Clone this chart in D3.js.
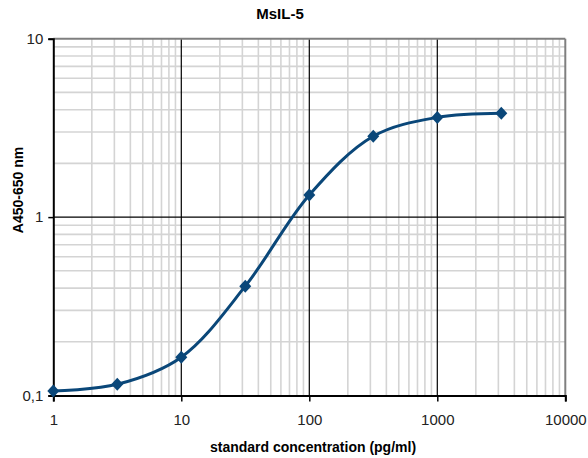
<!DOCTYPE html>
<html>
<head>
<meta charset="utf-8">
<script src="https://cdn.jsdelivr.net/npm/d3@7"></script>
<style>
  body { margin: 0; background: #fff; }
  svg { font-family: "Liberation Sans", Arial, sans-serif; }
</style>
</head>
<body>
<svg width="588" height="458"></svg>
<script>
// standard curve readings
const concentrations = [1, 3.16, 10, 31.6, 100, 316, 1000, 3162];
const absorbance = [0.106, 0.1156, 0.164, 0.41, 1.33, 2.84, 3.62, 3.82];
const xTicks = [1, 10, 100, 1000, 10000];
const yTicks = [0.1, 1, 10];
const yTickLabels = ["0,1", "1", "10"];

const svg = d3.select("svg");
const margin = {top: 38.7, right: 22.7, bottom: 62.5, left: 53.3};
const width = +svg.attr("width") - margin.left - margin.right;
const height = +svg.attr("height") - margin.top - margin.bottom;
const g = svg.append("g").attr("transform", `translate(${margin.left},${margin.top})`);

const x = d3.scaleLog().domain([1, 10000]).range([0, width]);
const y = d3.scaleLog().domain([0.1, 10]).range([height, 0]);

// minor grid values (2..9 of each decade)
const minorX = [], minorY = [];
[1, 10, 100, 1000].forEach(d => { for (let k = 2; k <= 9; k++) minorX.push(d * k); });
[0.1, 1].forEach(d => { for (let k = 2; k <= 9; k++) minorY.push(+(d * k).toFixed(2)); });

g.append("g").selectAll("line").data(minorX).join("line")
    .attr("x1", d => x(d)).attr("x2", d => x(d))
    .attr("y1", 0).attr("y2", height)
    .attr("stroke", "#d4d4d4").attr("stroke-width", 1.6);
g.append("g").selectAll("line").data(minorY).join("line")
    .attr("y1", d => y(d)).attr("y2", d => y(d))
    .attr("x1", 0).attr("x2", width)
    .attr("stroke", "#d4d4d4").attr("stroke-width", 1.6);

// major grid
g.append("g").selectAll("line").data(xTicks.slice(1, -1)).join("line")
    .attr("x1", d => x(d)).attr("x2", d => x(d))
    .attr("y1", 0).attr("y2", height)
    .attr("stroke", "#000").attr("stroke-width", 1.2);
g.append("g").selectAll("line").data(yTicks.slice(1, -1)).join("line")
    .attr("y1", d => y(d)).attr("y2", d => y(d))
    .attr("x1", 0).attr("x2", width)
    .attr("stroke", "#000").attr("stroke-width", 1.2);

// top and right frame
g.append("line").attr("x1", 0).attr("x2", width).attr("y1", 0).attr("y2", 0)
    .attr("stroke", "#7f7f7f").attr("stroke-width", 2);
g.append("line").attr("x1", width).attr("x2", width).attr("y1", 0).attr("y2", height)
    .attr("stroke", "#7f7f7f").attr("stroke-width", 2);

// axes
const xAxis = g.append("g").attr("transform", `translate(0,${height})`)
    .call(d3.axisBottom(x).tickValues(xTicks).tickFormat(d3.format("d")).tickSize(6).tickPadding(13));
const yAxis = g.append("g")
    .call(d3.axisLeft(y).tickValues(yTicks).tickFormat((d, i) => yTickLabels[i]).tickSize(5).tickPadding(5));

[xAxis, yAxis].forEach(a => {
    a.select(".domain").attr("stroke", "#000").attr("stroke-width", 2);
    a.selectAll(".tick line").attr("stroke", "#000").attr("stroke-width", 1.5);
    a.selectAll(".tick text").attr("font-size", 15).attr("fill", "#222")
        .attr("font-family", "'Liberation Sans', Arial, sans-serif");
});

// curve
const pts = concentrations.map((c, i) => ({c: c, a: absorbance[i]}));
const line = d3.line()
    .x(d => x(d.c))
    .y(d => y(d.a))
    .curve(d3.curveCatmullRom.alpha(0.5));

g.append("path").datum(pts)
    .attr("d", line)
    .attr("fill", "none")
    .attr("stroke", "#0a4779")
    .attr("stroke-width", 3);

// diamond markers, roughly square rotated
const diamond = "M0,-6.5L6,0L0,6.5L-6,0Z";
g.append("g").selectAll("path").data(pts).join("path")
    .attr("transform", d => `translate(${x(d.c)},${y(d.a)})`)
    .attr("d", diamond)
    .attr("fill", "#0a4779");

// titles
svg.append("text")
    .attr("x", 280).attr("y", 19)
    .attr("text-anchor", "middle")
    .attr("font-size", 15).attr("font-weight", "bold")
    .text("MsIL-5");

svg.append("text")
    .attr("x", 313).attr("y", 452)
    .attr("text-anchor", "middle")
    .attr("font-size", 14).attr("font-weight", "bold")
    .text("standard concentration (pg/ml)");

svg.append("text")
    .attr("transform", "translate(23,190) rotate(-90)")
    .attr("text-anchor", "middle")
    .attr("font-size", 14).attr("font-weight", "bold")
    .text("A450-650 nm");
</script>
</body>
</html>
